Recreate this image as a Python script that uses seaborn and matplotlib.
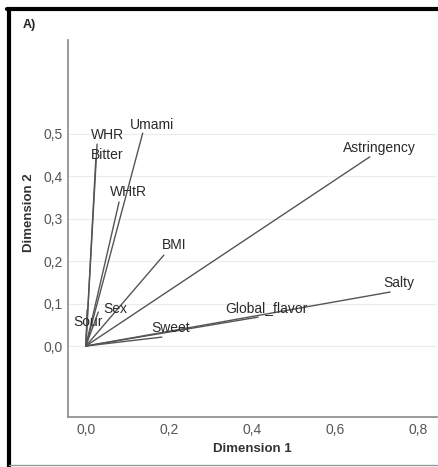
import matplotlib
matplotlib.use("Agg")
import matplotlib.pyplot as plt
import matplotlib.ticker as mticker
from matplotlib.lines import Line2D
import seaborn as sns
import pandas as pd

# component loadings
variables = ["WHR", "Bitter", "Umami", "WHtR", "BMI", "Astringency",
             "Salty", "Global_flavor", "Sweet", "Sex", "Sour"]
dim1 = [0.027, 0.024, 0.137, 0.080, 0.188, 0.684, 0.733, 0.415, 0.183, 0.030, 0.003]
dim2 = [0.475, 0.440, 0.501, 0.339, 0.214, 0.445, 0.127, 0.068, 0.021, 0.080, 0.085]

x_ticks = [0.0, 0.2, 0.4, 0.6, 0.8]
y_ticks = [0.0, 0.1, 0.2, 0.3, 0.4, 0.5]

# label offsets from vector tips, in pixels
label_offsets = {
    "WHR": (-6, 9), "Bitter": (-5, 4), "Umami": (-13, 8), "WHtR": (-9, 10),
    "BMI": (-2, 10), "Astringency": (-27, 9), "Salty": (-7, 9),
    "Global_flavor": (-33, 9), "Sweet": (-10, 9), "Sex": (5, 3), "Sour": (-14, -12),
}

sns.set_theme(style="white")
plt.rcParams["font.family"] = ["Liberation Sans", "DejaVu Sans"]

# each vector is a segment from the origin to its loading
rows = []
for name, a, b in zip(variables, dim1, dim2):
    rows.append({"variable": name, "order": 0, "x": 0.0, "y": 0.0})
    rows.append({"variable": name, "order": 1, "x": a, "y": b})
df = pd.DataFrame(rows)

fig = plt.figure(figsize=(4.39, 4.67), dpi=100)
ax = fig.add_axes([68 / 439, 1 - 417 / 467, (437 - 68) / 439, (417 - 40) / 467])

sns.lineplot(data=df, x="x", y="y", units="variable", estimator=None, sort=False,
             color="#555555", linewidth=1.0, ax=ax)

for name, a, b in zip(variables, dim1, dim2):
    dx, dy = label_offsets[name]
    ax.annotate(name, xy=(a, b), xytext=(dx, dy), textcoords="offset pixels",
                ha="left", va="center", fontsize=10, color="#2a2a2a")

ax.set_xlim(-0.043, 0.846)
ax.set_ylim(-0.167, 0.72)
ax.set_xticks(x_ticks)
ax.set_yticks(y_ticks)
comma = mticker.FuncFormatter(lambda v, p: f"{v:.1f}".replace(".", ","))
ax.xaxis.set_major_formatter(comma)
ax.yaxis.set_major_formatter(comma)
ax.tick_params(axis="both", length=0, labelsize=10, labelcolor="#555555", pad=4)

ax.yaxis.grid(True, color="#ececec", linewidth=0.8)
ax.set_axisbelow(True)
for side in ["top", "right"]:
    ax.spines[side].set_visible(False)
for side in ["left", "bottom"]:
    ax.spines[side].set_color("#8a8a8a")
    ax.spines[side].set_linewidth(1.2)

ax.set_xlabel("Dimension 1", fontsize=9.5, fontweight="bold", color="#333333", labelpad=5)
ax.set_ylabel("Dimension 2", fontsize=9.5, fontweight="bold", color="#333333")
ax.yaxis.set_label_coords(-0.089, 0.541)

fig.text(23 / 439, 1 - 25 / 467, "A)", fontsize=9, fontweight="bold", color="#222222",
         ha="left", va="center")

# panel frame: heavy black on left and top, thin grey at the bottom
fig.add_artist(Line2D([8.5 / 439, 8.5 / 439], [1 - 8.5 / 467, 0], transform=fig.transFigure,
                      color="black", linewidth=3))
fig.add_artist(Line2D([7 / 439, 1], [1 - 8.5 / 467, 1 - 8.5 / 467], transform=fig.transFigure,
                      color="black", linewidth=3))
fig.add_artist(Line2D([8.5 / 439, 1], [1 - 465 / 467, 1 - 465 / 467], transform=fig.transFigure,
                      color="#9a9a9a", linewidth=1))

fig.savefig("out.png", dpi=100)
plt.close(fig)
